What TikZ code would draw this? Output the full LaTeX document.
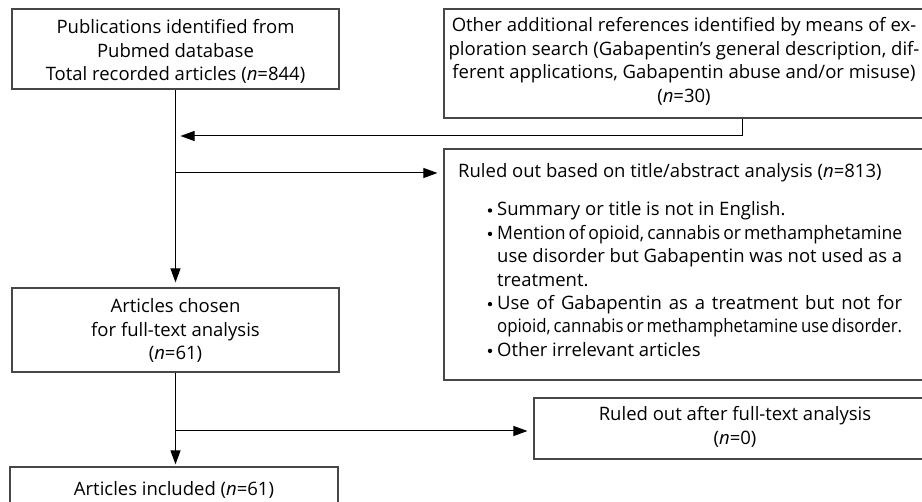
\documentclass[tikz,border=0pt]{standalone}
\usepackage{fontspec}
\usepackage{graphicx}
\setmainfont{Open Sans}
\usetikzlibrary{arrows.meta,calc}
\newcommand\jfill[1]{\makebox[405pt][s]{#1}}
\newcommand\jsqueeze[1]{\resizebox{405pt}{\height}{\spaceskip=0.17em\relax #1}}
\begin{document}
\begin{tikzpicture}[x=1pt,y=-1pt,
  every node/.style={font=\fontsize{18.5}{23.4}\selectfont},
  box/.style={draw=black!72, line width=1.2pt, inner sep=0pt, rectangle},
  txt/.style={inner sep=0pt, anchor=base, text=black},
  ltxt/.style={inner sep=0pt, anchor=base west, text=black},
  dot/.style={circle, fill=black, inner sep=0pt, minimum size=4.4pt},
  conn/.style={draw=black, line width=1pt, -{Triangle[length=14pt,width=10pt]}}]
\useasboundingbox (0,0) rectangle (922,502);
\clip (0,0) rectangle (922,502);

% boxes
\node[box, minimum width=327pt, minimum height=80pt]  (b1) at (175.5,49) {};
\node[box, minimum width=486pt, minimum height=109pt] (b2) at (687,63.5) {};
\node[box, minimum width=486pt, minimum height=231pt] (b4) at (687,264.5) {};
\node[box, minimum width=327pt, minimum height=84pt]  (b3) at (175.5,330) {};
\node[box, minimum width=406pt, minimum height=61pt]  (b5) at (737,428.5) {};
\node[box, minimum width=328pt, minimum height=70pt]  (b6) at (174,502) {};

% texts
\node[txt] (t1) at (175.5,34) {\parbox[t]{320pt}{\centering Publications identified from\\Pubmed database\\Total recorded articles (\textit{n}=844)}};
\node[txt] (t2) at (684,32) {\parbox[t]{480pt}{\centering Other additional references identified by means of ex-\\ploration search (Gabapentin's general description, dif-\\ferent applications, Gabapentin abuse and/or misuse)\\(\textit{n}=30)}};
\node[ltxt] (t4) at (458,178) {Ruled out based on title/abstract analysis (\textit{n}=813)};
\node[dot] (u1) at (490,210.5) {};
\node[dot] (u2) at (490,233.9) {};
\node[dot] (u3) at (490,304.1) {};
\node[dot] (u4) at (490,350.9) {};
\node[ltxt] (l1) at (497,216) {Summary or title is not in English.};
\node[ltxt] (l2) at (497,239.4) {\jsqueeze{Mention of opioid, cannabis or methamphetamine}};
\node[ltxt] (l3) at (497,262.8) {\jfill{use disorder but Gabapentin was not used as a}};
\node[ltxt] (l4) at (497,286.2) {treatment.};
\node[ltxt] (l5) at (497,309.6) {\jfill{Use of Gabapentin as a treatment but not for}};
\node[ltxt] (l6) at (497,333) {\jsqueeze{opioid, cannabis or methamphetamine use disorder.}};
\node[ltxt] (l7) at (497,356.4) {Other irrelevant articles};
\node[txt] (t3) at (175.5,313) {\parbox[t]{320pt}{\centering Articles chosen\\for full-text analysis\\(\textit{n}=61)}};
\node[txt] (t5) at (735,421) {\parbox[t]{380pt}{\centering Ruled out after full-text analysis\\(\textit{n}=0)}};
\node[txt] (t6) at (174,496) {Articles included (\textit{n}=61)};

% connectors
\draw[conn, shorten >=5pt] (b1.south) -- (b3.north);
\coordinate (j0) at (742,136);
\draw[conn, shorten >=5pt] (b2.south -| j0) -- (j0) -- (j0 -| b1.south);
\coordinate (j1) at (175.5,173);
\draw[conn, shorten >=6pt] (j1) -- (j1 -| b4.west);
\draw[conn, shorten >=2pt] (b3.south) -- (b3.south |- b6.north);
\coordinate (j2) at (175.5,431);
\draw[conn, shorten >=6pt] (j2) -- (j2 -| b5.west);
\end{tikzpicture}
\end{document}
